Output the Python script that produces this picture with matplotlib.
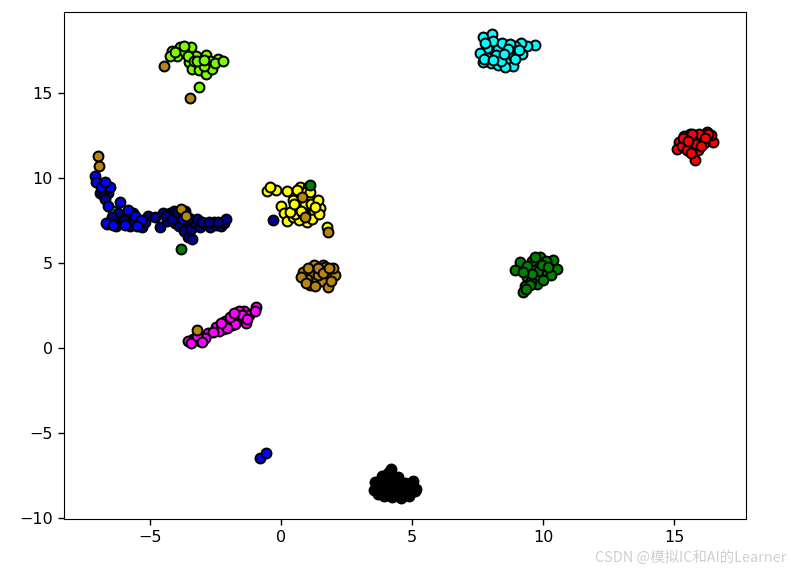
import matplotlib
matplotlib.use("Agg")
import matplotlib.pyplot as plt

# clusters, values
black_x = [3.6, 3.55, 3.7, 3.85, 3.95, 4.1, 4.2, 4.3, 4.25, 4.45, 4.6, 4.75, 4.9, 5.05, 5.15, 3.65, 3.9, 4.1, 4.35, 4.6, 4.85, 5.1, 4.0, 4.5, 3.8, 4.05, 4.4, 4.7, 4.95]
black_y = [-7.9, -8.35, -8.6, -7.55, -8.75, -7.35, -7.15, -8.0, -8.8, -7.6, -8.85, -7.95, -8.7, -7.85, -8.3, -8.1, -8.3, -7.8, -8.4, -8.2, -8.35, -8.45, -8.65, -8.6, -8.0, -8.1, -7.85, -8.5, -8.05]

navy_x = [-6.85, -6.75, -6.6, -6.9, -6.8, -6.7, -6.65, -6.5, -6.3, -6.2, -6.05, -5.9, -5.75, -5.6, -5.45, -5.3, -5.07, -4.81, -4.62, -4.49, -4.35, -4.24, -4.1, -4.05, -3.9, -3.8, -3.7, -3.6, -3.54, -3.45, -3.4, -3.28, -3.1, -2.88, -2.7, -2.55, -2.46, -2.3, -2.18, -2.11, -0.3, -6.45, -6.0, -5.65, -5.2, -4.4, -4.15, -3.95, -3.65, -3.5, -3.2, -3.0, -2.75, -2.4]
navy_y = [9.6, 9.3, 9.15, 9.11, 9.02, 8.8, 7.3, 7.4, 7.2, 7.94, 7.35, 7.7, 7.2, 7.5, 7.3, 7.15, 7.78, 7.7, 7.15, 7.94, 7.5, 7.97, 8.1, 7.39, 7.2, 7.75, 6.9, 7.5, 6.56, 7.0, 6.4, 7.39, 7.1, 7.31, 7.1, 7.4, 7.25, 7.2, 7.39, 7.58, 7.54, 7.7, 7.55, 7.95, 7.4, 7.75, 7.6, 8.0, 8.05, 7.65, 7.6, 7.45, 7.4, 7.45]

blue_x = [-7.1, -7.04, -6.85, -6.53, -6.72, -6.59, -6.14, -6.68, -5.83, -5.57, -5.34, -5.51, -5.95, -6.4, -3.75, -0.8, -0.57]
blue_y = [10.14, 9.8, 9.51, 9.51, 9.8, 8.37, 8.62, 7.39, 8.13, 7.78, 7.54, 7.19, 7.25, 7.25, 7.6, -6.5, -6.2]

yellow_x = [-0.52, -0.19, 0.22, -0.42, 0.02, 0.11, 0.22, 0.45, 0.72, 1.04, 1.04, 1.36, 1.49, 1.04, 0.79, 0.53, 1.25, 0.98, 0.66, 0.45, 0.7, 0.9, 1.15, 1.4, 0.55, 0.85, 1.2, 1.45, 0.95, 1.75, 0.6, 0.75, 1.1, 1.3, 0.35, 0.5]
yellow_y = [9.25, 9.31, 9.25, 9.5, 8.37, 7.94, 7.5, 7.7, 9.5, 9.5, 8.92, 8.62, 8.23, 7.84, 8.29, 8.23, 8.1, 7.45, 9.1, 8.7, 7.55, 8.5, 8.5, 8.7, 7.9, 7.9, 7.6, 7.9, 9.2, 7.15, 9.3, 8.05, 9.2, 8.3, 8.0, 8.5]

brown_x = [1.21, 1.59, 1.0, 0.85, 1.25, 1.81, 1.55, 1.78, 2.06, 1.11, 1.4, 2.0, 0.75, 0.95, 1.7, 1.9, 1.3, 1.05, 1.4, 1.6, 1.85, -7.0, -6.95, -3.8, -3.62, 0.8, 0.92, 1.79, -3.22, -4.47, -3.47]
brown_y = [4.44, 4.89, 4.05, 4.5, 4.89, 4.36, 3.97, 3.575, 4.3, 3.71, 4.3, 4.7, 4.2, 3.8, 4.75, 3.95, 3.65, 4.7, 4.7, 4.4, 4.7, 11.3, 10.75, 8.2, 7.8, 8.9, 7.7, 6.85, 1.06, 16.62, 14.75]

magenta_x = [-0.97, -1.41, -1.57, -2.14, -1.88, -2.2, -2.48, -2.78, -3.09, -3.35, -3.54, -3.45, -1.6, -1.2, -1.0, -1.75, -1.95, -1.35, -2.35, -2.6, -2.9, -3.2, -1.5, -2.05, -1.8, -1.3, -2.3, -3.0]
magenta_y = [2.44, 2.2, 1.71, 1.61, 1.36, 1.14, 1.22, 0.9, 0.43, 0.51, 0.43, 0.28, 2.15, 1.95, 2.2, 1.4, 1.85, 1.45, 1.0, 0.95, 0.6, 0.7, 1.95, 1.2, 2.05, 1.7, 1.45, 0.35]

lime_x = [-3.86, -3.45, -4.17, -3.98, -4.24, -3.24, -3.5, -2.86, -2.39, -2.71, -3.03, -3.41, -3.13, -2.86, -2.65, -3.7, -3.55, -3.3, -4.05, -2.5, -2.95, -3.12, -3.7, -3.2, -2.95, -2.2]
lime_y = [17.72, 17.76, 17.52, 17.21, 17.21, 17.21, 16.87, 17.27, 17.01, 16.93, 16.78, 16.42, 16.38, 16.15, 16.42, 17.5, 17.2, 16.9, 17.45, 16.8, 16.6, 15.36, 17.8, 16.9, 17.0, 16.9]

cyan_x = [9.69, 9.4, 9.15, 8.93, 8.3, 7.88, 7.6, 8.0, 8.3, 8.6, 8.87, 8.87, 8.55, 7.72, 8.04, 7.72, 8.1, 8.45, 8.75, 9.0, 7.9, 8.2, 8.65, 7.8, 9.2, 8.4, 7.75, 8.1, 8.5, 8.95, 9.1]
cyan_y = [17.86, 17.8, 17.99, 17.8, 17.6, 17.66, 17.37, 16.78, 16.68, 17.0, 17.2, 16.62, 16.58, 18.31, 18.5, 16.87, 18.1, 18.0, 17.9, 17.5, 17.1, 17.25, 17.6, 18.0, 17.3, 16.9, 17.05, 17.0, 17.35, 17.05, 17.55]

red_x = [16.25, 15.61, 16.5, 15.19, 15.63, 15.93, 15.82, 15.1, 15.4, 16.0, 16.4, 15.3, 15.8, 16.15, 15.5, 15.95, 15.65, 16.3, 15.85, 16.2, 15.35, 15.7, 16.05, 15.55]
red_y = [12.75, 12.61, 12.16, 12.16, 11.87, 11.67, 11.08, 11.7, 12.5, 12.5, 12.55, 11.9, 12.3, 12.1, 11.65, 12.6, 11.5, 12.6, 12.05, 12.35, 12.35, 12.6, 11.9, 12.2]

green_x = [9.9, 9.19, 9.82, 10.39, 10.52, 9.38, 9.78, 9.31, 9.25, 10.14, 9.12, 8.93, 9.6, 9.55, 10.1, 10.3, 9.4, 9.95, 9.6, 9.5, 9.25, 9.7, 10.2, 10.0, 9.35, 1.1, -3.8]
green_y = [5.38, 4.7, 4.54, 5.19, 4.64, 4.2, 3.77, 3.65, 3.32, 4.36, 5.09, 4.6, 5.1, 3.95, 5.1, 4.3, 4.85, 4.9, 4.35, 3.7, 4.45, 5.35, 4.8, 4.0, 3.45, 9.6, 5.85]

stray_cyan_x = [-6.4]
stray_cyan_y = [8.1]

xticks = [-5, 0, 5, 10, 15]
yticks = [-10, -5, 0, 5, 10, 15]

fig = plt.figure(figsize=(7.91, 5.72), dpi=100)
ax = fig.add_axes([64 / 791, 53 / 572, 682 / 791, 507 / 572])


def cluster(x, y, color):
    ax.plot(x, y, "o", markerfacecolor=color, markeredgecolor="k", markersize=7.1, markeredgewidth=1.45)


cluster(black_x, black_y, "k")
cluster(stray_cyan_x, stray_cyan_y, "#00ffff")
cluster(navy_x, navy_y, "#00008b")
cluster(blue_x, blue_y, "#0000ff")
cluster(yellow_x, yellow_y, "#ffff00")
cluster(magenta_x, magenta_y, "#ff00ff")
cluster(lime_x, lime_y, "#7cfc00")
cluster(cyan_x, cyan_y, "#00ffff")
cluster(red_x, red_y, "#ff0000")
cluster(green_x, green_y, "#008000")
cluster(brown_x, brown_y, "#b8860b")

ax.set_xlim(-8.28, 17.75)
ax.set_ylim(-10.08, 19.8)
ax.set_xticks(xticks)
ax.set_yticks(yticks)
ax.tick_params(labelsize=11.5, length=4.5, width=1)

fig.text(786 / 791, 14 / 572, "CSDN @模拟IC和AI的Learner", ha="right", va="center",
         fontsize=10.4, color="#cfcfcf", family=["Noto Sans CJK SC", "DejaVu Sans"])

fig.savefig("out.png", dpi=100)
